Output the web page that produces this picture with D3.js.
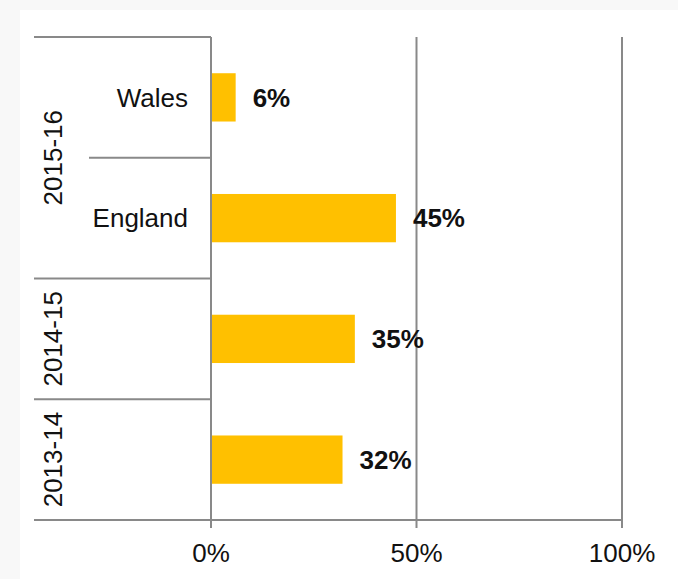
<!DOCTYPE html>
<html>
<head>
<meta charset="utf-8">
<script src="https://cdn.jsdelivr.net/npm/d3@7"></script>
<style>
html,body{margin:0;padding:0;background:#f8f8f8;}
svg{display:block;}
svg text{font-family:"Liberation Sans";}
</style>
</head>
<body>
<svg id="chart" width="678" height="579"></svg>
<script>
const years = ["2015-16", "2015-16", "2014-15", "2013-14"];
const countries = ["Wales", "England", "", ""];
const values = [6, 45, 35, 32];
const tickValues = [0, 50, 100];
const tickLabels = ["0%", "50%", "100%"];

(function () {
const svg = d3.select("#chart");
const lineColor = "#898989";
const textColor = "#111";

svg.append("rect").attr("x", 20).attr("y", 10).attr("width", 658).attr("height", 569).attr("fill", "#fff");

const x = d3.scaleLinear().domain([0, 100]).range([211, 622]);
const rows = d3.range(values.length);
const y = d3.scaleBand().domain(rows).range([37, 520]).paddingInner(0.6).paddingOuter(0.3);
const step = y.step();
const plotTop = 37;
const rowTop = i => plotTop + i * step;

svg.append("g").selectAll("line").data(tickValues.slice(1)).join("line")
  .attr("x1", d => x(d)).attr("x2", d => x(d))
  .attr("y1", plotTop).attr("y2", 528)
  .attr("stroke", lineColor).attr("stroke-width", 2);

svg.append("g").selectAll("rect").data(values).join("rect")
  .attr("x", x(0)).attr("y", (d, i) => y(i))
  .attr("width", d => x(d) - x(0)).attr("height", y.bandwidth())
  .attr("fill", "#FFC000");

svg.append("g").selectAll("text").data(values).join("text")
  .attr("x", d => x(d) + 17).attr("y", (d, i) => y(i) + y.bandwidth() / 2)
  .attr("dy", "0.36em")
  .attr("font-size", 26).attr("font-weight", "bold")
  .attr("fill", textColor)
  .text(d => d + "%");

const lines = [];
for (let i = 0; i <= values.length; i++) {
  let x1 = 34;
  if (i > 0 && i < values.length && years[i] === years[i - 1]) x1 = 89;
  lines.push({ y: rowTop(i), x1: x1, x2: i === values.length ? x(100) : x(0) });
}
svg.append("g").selectAll("line").data(lines).join("line")
  .attr("x1", d => d.x1).attr("x2", d => d.x2)
  .attr("y1", d => d.y).attr("y2", d => d.y)
  .attr("stroke", lineColor).attr("stroke-width", 2);

svg.append("line").attr("x1", x(0)).attr("x2", x(0)).attr("y1", plotTop).attr("y2", 528)
  .attr("stroke", lineColor).attr("stroke-width", 2);

svg.append("g").selectAll("text").data(tickValues).join("text")
  .attr("x", d => x(d)).attr("y", 562)
  .attr("text-anchor", "middle")
  .attr("font-size", 26).attr("fill", textColor)
  .text((d, i) => tickLabels[i]);

svg.append("g").selectAll("text").data(countries).join("text")
  .attr("x", 188).attr("y", (d, i) => y(i) + y.bandwidth() / 2)
  .attr("dy", "0.36em").attr("text-anchor", "end")
  .attr("font-size", 26).attr("fill", textColor)
  .text(d => d);

const groups = [];
years.forEach((yr, i) => {
  const g = groups.find(g => g.name === yr);
  if (g) g.end = i; else groups.push({ name: yr, start: i, end: i });
});
svg.append("g").selectAll("text").data(groups).join("text")
  .attr("transform", d => `translate(62,${(rowTop(d.start) + rowTop(d.end + 1)) / 2}) rotate(-90)`)
  .attr("text-anchor", "middle")
  .attr("font-size", 26).attr("fill", textColor)
  .text(d => d.name);
})();
</script>
</body>
</html>
